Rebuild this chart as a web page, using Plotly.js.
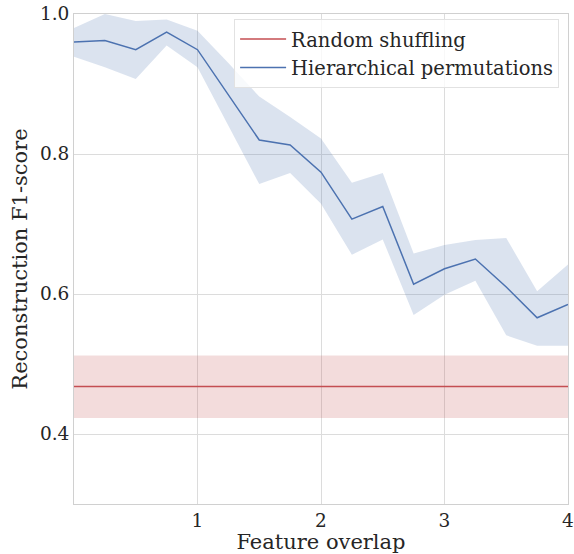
<!DOCTYPE html>
<html>
<head>
<meta charset="utf-8">
<script src="https://cdn.plot.ly/plotly-3.0.1.min.js"></script>
<style>html,body{margin:0;padding:0;background:#fff;}#chart{width:574px;height:554px;}</style>
</head>
<body>
<div id="chart"></div>
<script>
const overlap = [0, 0.25, 0.5, 0.75, 1.0, 1.25, 1.5, 1.75, 2.0, 2.25, 2.5, 2.75, 3.0, 3.25, 3.5, 3.75, 4.0];
const hierMean = [0.960, 0.962, 0.949, 0.974, 0.949, 0.885, 0.820, 0.813, 0.774, 0.707, 0.725, 0.614, 0.636, 0.650, 0.610, 0.566, 0.585];
const hierUpper = [0.980, 1.000, 0.990, 0.992, 0.976, 0.930, 0.882, 0.853, 0.822, 0.759, 0.773, 0.658, 0.670, 0.677, 0.680, 0.604, 0.642];
const hierLower = [0.939, 0.924, 0.907, 0.955, 0.924, 0.840, 0.757, 0.773, 0.729, 0.656, 0.678, 0.570, 0.599, 0.619, 0.541, 0.526, 0.526];
const randomX = [0, 4];
const randomMean = [0.468, 0.468];
const randomUpper = [0.512, 0.512];
const randomLower = [0.423, 0.423];
const xTicks = [1, 2, 3, 4];
const yTicks = [0.4, 0.6, 0.8, 1.0];
const yTickText = ['0.4', '0.6', '0.8', '1.0'];

const blue = '#4c72b0', red = '#c44e52';
const font = 'DejaVu Serif, serif';

const traces = [
  {x: randomX, y: randomLower, mode: 'lines', line: {width: 0}, showlegend: false, hoverinfo: 'skip'},
  {x: randomX, y: randomUpper, mode: 'lines', line: {width: 0}, fill: 'tonexty', fillcolor: 'rgba(196,78,82,0.2)', showlegend: false, hoverinfo: 'skip'},
  {x: overlap, y: hierLower, mode: 'lines', line: {width: 0}, showlegend: false, hoverinfo: 'skip'},
  {x: overlap, y: hierUpper, mode: 'lines', line: {width: 0}, fill: 'tonexty', fillcolor: 'rgba(76,114,176,0.2)', showlegend: false, hoverinfo: 'skip'},
  {x: randomX, y: randomMean, mode: 'lines', name: 'Random shuffling', line: {color: red, width: 1.5}},
  {x: overlap, y: hierMean, mode: 'lines', name: 'Hierarchical permutations', line: {color: blue, width: 1.5}}
];

const layout = {
  width: 574, height: 554,
  margin: {l: 74, r: 6, t: 14, b: 50},
  paper_bgcolor: '#fff', plot_bgcolor: '#fff',
  font: {family: font, size: 18.5, color: '#262626'},
  xaxis: {
    range: [0, 4], tickvals: xTicks, showgrid: true, gridcolor: '#dcdcdc', gridwidth: 1,
    zeroline: false, showline: true, linecolor: '#d0d0d0', mirror: true, ticks: '',
    tickfont: {family: font, size: 18.5, color: '#262626'},
    title: {text: 'Feature overlap', font: {family: font, size: 21, color: '#262626'}, standoff: 2},
    automargin: false
  },
  yaxis: {
    range: [0.3, 1.0], tickvals: yTicks, ticktext: yTickText, showgrid: true, gridcolor: '#dcdcdc', gridwidth: 1,
    zeroline: false, showline: true, linecolor: '#d0d0d0', mirror: true, ticks: '',
    tickfont: {family: font, size: 18.5, color: '#262626'},
    title: {text: 'Reconstruction F1-score', font: {family: font, size: 21, color: '#262626'}, standoff: 6},
    automargin: false
  },
  legend: {
    x: 0.982, xanchor: 'right', y: 0.99, yanchor: 'top', traceorder: 'normal',
    bgcolor: 'rgba(255,255,255,0.8)', bordercolor: '#e2e2e2', borderwidth: 1,
    font: {family: font, size: 19.5, color: '#262626'},
    itemwidth: 46, tracegroupgap: 0
  },
  showlegend: true
};

Plotly.newPlot('chart', traces, layout, {displayModeBar: false, staticPlot: true});
</script>
</body>
</html>
